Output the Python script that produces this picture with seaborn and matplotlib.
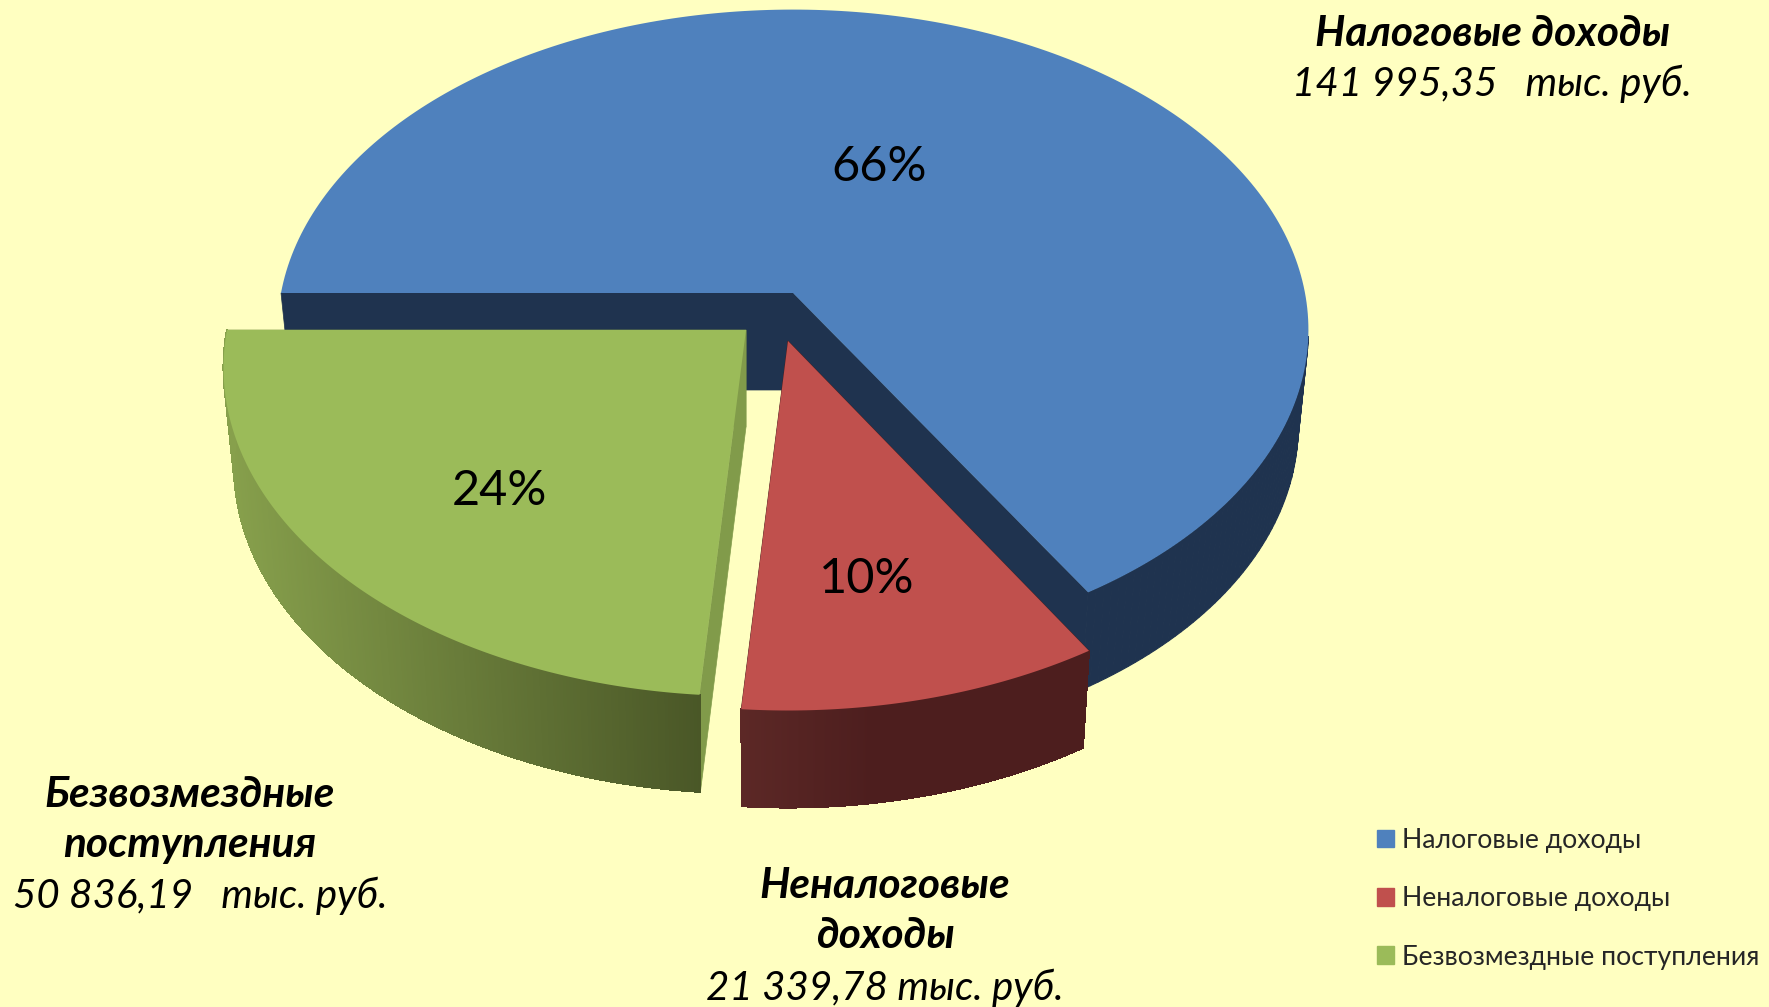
import numpy as np
import matplotlib.pyplot as plt
import seaborn as sns
from matplotlib.colors import to_rgb
from matplotlib.patches import Patch

# --- data ---
categories = ["Налоговые доходы", "Неналоговые доходы", "Безвозмездные поступления"]
values = [141995.35, 21339.78, 50836.19]
callout_names = ["Налоговые доходы", "Неналоговые\nдоходы", "Безвозмездные\nпоступления"]
callout_values = ["141 995,35   тыс. руб.", "21 339,78 тыс. руб.", "50 836,19   тыс. руб."]

# --- look ---
BG = "#FFFFC1"
FONT = ["Lato", "Noto Sans", "DejaVu Sans"]
START = 270      # first slice starts at 9 o'clock, clockwise
TILT = 0.115     # perspective of the pie plate
DEPTH = 97
SHRINK = 0.98    # lower rim is a bit narrower

# apex x, apex y, radius x, radius y per slice (explosion)
apex = [(793, 293), (788, 341), (746, 330)]
radius = [(512, 316), (522, 327), (519, 324)]
wall_left = ["#1F334F", "#5C2826", "#87A04C"]
wall_right = ["#1F334F", "#4D1E1E", "#4A5727"]
inner_wall = ["#1F334F", "#4D1E1E", "#819B4A"]
pct_pos = [(879, 167), (867, 579), (499, 491)]
name_pos = [(1493, 34), (885, 911), (190, 820)]
value_pos = [(1492, 84), (885, 988), (200, 896)]

sns.set_theme(style="white")
plt.rcParams["font.family"] = FONT
palette = sns.color_palette(["#4F81BD", "#C0504D", "#9BBB59"])


def rim(theta, i):
    # point on the tilted circle, theta in degrees clockwise from 12 o'clock
    t = np.radians(theta)
    u, v = np.sin(t), -np.cos(t)
    d = 1 - TILT * v
    return apex[i][0] + radius[i][0] * u / d, apex[i][1] + radius[i][1] * v / d


def lower(x, y, i):
    return apex[i][0] + (x - apex[i][0]) * SHRINK, y + DEPTH


def mix(a, b, f):
    a, b = np.array(to_rgb(a)), np.array(to_rgb(b))
    return tuple(a + (b - a) * np.clip(f, 0, 1))


def draw_slice(ax, i, a0, a1, zorder):
    thetas = np.linspace(a0, a1, 240)
    xs, ys = rim(thetas, i)
    bx, by = lower(xs, ys, i)
    ax0, ay0 = apex[i]

    # flat cut faces
    for x, y in [(xs[0], ys[0]), (xs[-1], ys[-1])]:
        lx, ly = lower(x, y, i)
        ax.fill([ax0, x, lx, ax0], [ay0, y, ly, ay0 + DEPTH], color=inner_wall[i],
                lw=0.5, zorder=zorder)

    # outer wall, shaded from left to right
    lo, hi = xs.min(), xs.max()
    if i == 1:
        hi = lo + 130
    if i == 2:
        hi = xs[0]
    for k in range(len(xs) - 1):
        if i == 0 and ys[k] < ay0 + 40:
            continue  # back of the rim, hidden behind the top face
        f = (xs[k] - lo) / (hi - lo)
        c = mix(wall_left[i], wall_right[i], f)
        ax.fill([xs[k], xs[k + 1], bx[k + 1], bx[k]], [ys[k], ys[k + 1], by[k + 1], by[k]],
                facecolor=c, edgecolor=c, lw=0.8, antialiased=(i == 0), zorder=zorder + 0.1)

    ax.fill(np.r_[ax0, xs], np.r_[ay0, ys], color=palette[i], lw=0, zorder=zorder + 0.2)


fig = plt.figure(figsize=(17.69, 10.07), dpi=100, facecolor=BG)
ax = fig.add_axes([0, 0, 1, 1])
ax.set_xlim(0, 1769)
ax.set_ylim(1007, 0)
ax.axis("off")

total = sum(values)
angle = START
for i, val in enumerate(values):
    sweep = val / total * 360
    draw_slice(ax, i, angle, angle + sweep, zorder=2 + i)
    angle += sweep
    ax.text(*pct_pos[i], f"{val / total * 100:.0f}%", fontsize=35, color="black",
            ha="center", va="center", zorder=10)
    ax.text(*name_pos[i], callout_names[i], fontsize=30.5, fontweight="bold", fontstyle="italic",
            ha="center", va="center", linespacing=1.4, color="black", zorder=10)
    ax.text(*value_pos[i], callout_values[i], fontsize=29, fontstyle="italic",
            ha="center", va="center", color="black", zorder=10)

handles = [Patch(color=palette[i], label=categories[i]) for i in range(3)]
ax.legend(handles=handles, loc="upper left", bbox_to_anchor=(1377 / 1769, 1 - 828 / 1007),
          frameon=False, fontsize=19.2, handlelength=0.64, handleheight=0.64, handletextpad=0.3,
          labelspacing=1.25, borderpad=0, borderaxespad=0)

fig.savefig("out.png", dpi=100, facecolor=BG)
